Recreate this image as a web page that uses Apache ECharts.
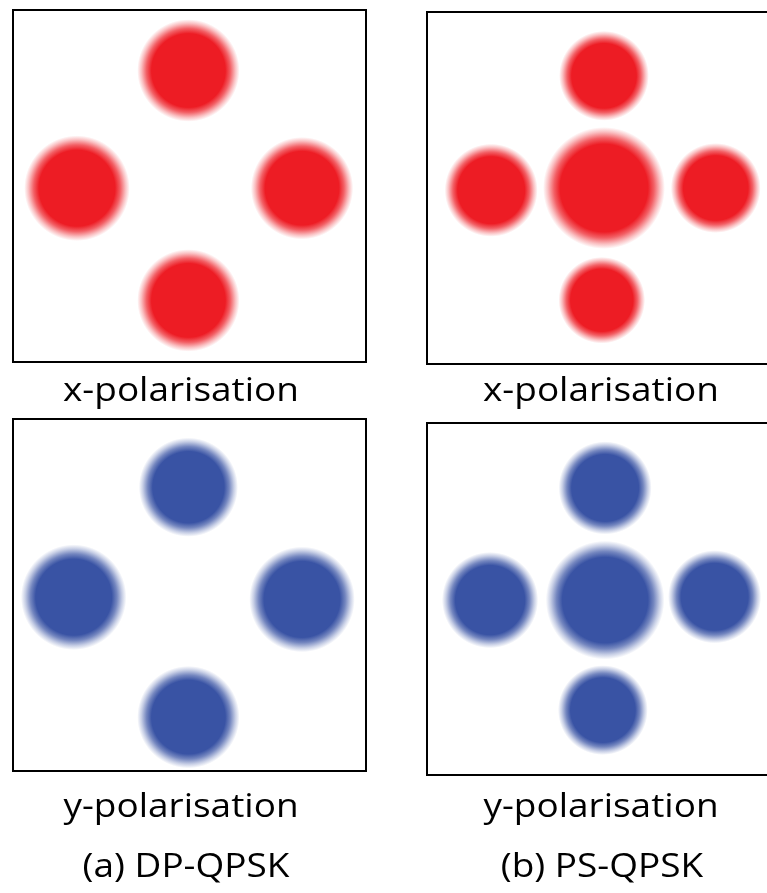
<!DOCTYPE html>
<html>
<head>
<meta charset="utf-8">
<script src="https://cdn.jsdelivr.net/npm/echarts@6/dist/echarts.min.js"></script>
<style>
  html, body { margin: 0; padding: 0; background: #fff; }
  #main { width: 767px; height: 893px; }
</style>
</head>
<body>
<div id="main"></div>
<script>
// 星座图数据 [I, Q, 半径(spread)]
var dpX = [[-0.01, 1.05, 0.32], [-1.02, -0.02, 0.33], [1.02, -0.02, 0.32], [-0.01, -1.04, 0.32]];
var dpY = [[-0.01, 0.98, 0.31], [-1.05, -0.02, 0.33], [1.02, -0.04, 0.33], [-0.01, -1.11, 0.32]];
var psX = [[0, 1.02, 0.28], [0, 0, 0.38], [-1.02, -0.02, 0.29], [1.01, 0, 0.28], [-0.02, -1.02, 0.27]];
var psY = [[0.01, 1.01, 0.29], [0.01, -0.01, 0.37], [-1.03, -0.01, 0.3], [1.0, 0.02, 0.29], [-0.01, -1.01, 0.28]];

var polLabels = ['x-polarisation', 'y-polarisation'];
var panelLabels = ['(a) DP-QPSK', '(b) PS-QPSK'];

var RED = '#ED1C24';
var BLUE = '#3953A4';

// 1. 实例化对象
var myChart = echarts.init(document.getElementById('main'));

function fade(color, a) {
  var c = echarts.color.parse(color);
  return 'rgba(' + c[0] + ',' + c[1] + ',' + c[2] + ',' + a + ')';
}

function clusterSeries(idx, data, color) {
  return {
    type: 'custom',
    xAxisIndex: idx,
    yAxisIndex: idx,
    data: data,
    renderItem: function (params, api) {
      var c = api.coord([api.value(0), api.value(1)]);
      var r = api.size([api.value(2), api.value(2)])[0];
      var R = r * 1.45;
      return {
        type: 'circle',
        shape: { cx: c[0], cy: c[1], r: R },
        style: {
          fill: new echarts.graphic.RadialGradient(0.5, 0.5, 0.5, [
            { offset: 0, color: color },
            { offset: 0.72, color: color },
            { offset: 0.82, color: fade(color, 0.7) },
            { offset: 0.92, color: fade(color, 0.28) },
            { offset: 1, color: fade(color, 0) }
          ])
        }
      };
    }
  };
}

var grids = [
  { left: 13, top: 10, width: 353, height: 352 },
  { left: 427, top: 12, width: 354, height: 352 },
  { left: 13, top: 419, width: 353, height: 352 },
  { left: 427, top: 423, width: 354, height: 352 }
];

function textEl(txt, cx, cy) {
  return {
    type: 'text',
    x: cx,
    y: cy,
    scaleX: 1.12,
    style: {
      text: txt,
      x: 0,
      y: 0,
      fill: '#000',
      font: '33px "Open Sans"',
      textAlign: 'center',
      textVerticalAlign: 'middle'
    }
  };
}

// 2.指定配置
var option = {
  animation: false,
  grid: grids.map(function (g) {
    return Object.assign({
      show: true,
      borderColor: '#000',
      borderWidth: 2,
      backgroundColor: '#fff',
      outerBoundsMode: 'none',
      containLabel: false
    }, g);
  }),
  xAxis: grids.map(function (g, i) {
    return { type: 'value', gridIndex: i, min: -1.6, max: 1.6, show: false };
  }),
  yAxis: grids.map(function (g, i) {
    return { type: 'value', gridIndex: i, min: -1.6, max: 1.6, show: false };
  }),
  series: [
    clusterSeries(0, dpX, RED),
    clusterSeries(1, psX, RED),
    clusterSeries(2, dpY, BLUE),
    clusterSeries(3, psY, BLUE)
  ],
  graphic: [
    textEl(polLabels[0], 181, 392),
    textEl(polLabels[0], 601, 392),
    textEl(polLabels[1], 181, 808),
    textEl(polLabels[1], 601, 808),
    textEl(panelLabels[0], 186, 868),
    textEl(panelLabels[1], 602, 868)
  ]
};
// 3. 把配置给实例对象
myChart.setOption(option);
</script>
</body>
</html>
